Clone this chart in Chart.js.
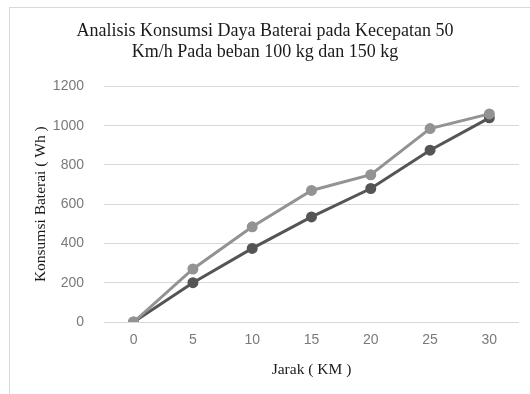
<!DOCTYPE html>
<html>
<head>
<meta charset="utf-8">
<script src="https://cdn.jsdelivr.net/npm/chart.js@4/dist/chart.umd.min.js"></script>
<style>
  html, body { margin: 0; padding: 0; background: #fff; }
  #wrap { position: relative; width: 530px; height: 394px; overflow: hidden; }
  #frame { position: absolute; left: 9px; top: 7px; right: -2px; bottom: -2px;
           border-left: 1px solid #d9d9d9; border-top: 1px solid #d9d9d9; }
  canvas { position: absolute; left: 0; top: 0; }
</style>
</head>
<body>
<div id="wrap">
  <div id="frame"></div>
  <canvas id="c" width="530" height="394"></canvas>
</div>
<script>
// Distance travelled (km)
const jarak = ['0', '5', '10', '15', '20', '25', '30'];
// Battery consumption (Wh) for each load
const beban150 = [0, 270, 485, 670, 750, 985, 1060];
const beban100 = [0, 200, 375, 535, 680, 875, 1040];
const titleLines = ['Analisis Konsumsi Daya Baterai pada Kecepatan 50', 'Km/h Pada beban 100 kg dan 150 kg'];
const yTitle = 'Konsumsi Baterai ( Wh )';
const xTitle = 'Jarak ( KM )';

const serif = "'Liberation Serif', 'Times New Roman', serif";
const sans = "'Liberation Sans', Arial, sans-serif";

new Chart(document.getElementById('c'), {
  type: 'line',
  data: {
    labels: jarak,
    datasets: [
      {
        label: '150 kg',
        data: beban150,
        borderColor: '#939393',
        backgroundColor: '#939393',
        borderWidth: 3,
        pointRadius: 4,
        pointHoverRadius: 4,
        tension: 0
      },
      {
        label: '100 kg',
        data: beban100,
        borderColor: '#555555',
        backgroundColor: '#555555',
        borderWidth: 3,
        pointRadius: 4,
        pointHoverRadius: 4,
        tension: 0
      }
    ]
  },
  options: {
    responsive: false,
    animation: false,
    devicePixelRatio: 1,
    layout: { padding: { left: 11, right: 11, top: 10, bottom: 10 } },
    plugins: {
      legend: { display: false },
      tooltip: { enabled: false },
      title: {
        display: true,
        text: titleLines,
        color: '#1a1a1a',
        font: { family: serif, size: 18, weight: 'normal', lineHeight: 1.15 },
        padding: { top: 11, bottom: 24 }
      }
    },
    scales: {
      x: {
        offset: true,
        grid: { display: false, drawTicks: false },
        border: { display: false },
        ticks: {
          color: '#7a7a7a',
          padding: 10,
          font: { family: sans, size: 14 }
        },
        title: {
          display: true,
          text: xTitle,
          color: '#1a1a1a',
          font: { family: serif, size: 15.5, lineHeight: 1.2 },
          padding: { top: 6, bottom: 5 }
        },
        afterFit(scale) { scale.height = 62; }
      },
      y: {
        min: 0,
        max: 1200,
        grid: { color: '#d9d9d9', lineWidth: 1, drawTicks: false },
        border: { display: false },
        ticks: {
          stepSize: 200,
          color: '#7a7a7a',
          padding: 20,
          font: { family: sans, size: 14 },
          callback: (v) => String(v)
        },
        title: {
          display: true,
          text: yTitle,
          color: '#1a1a1a',
          font: { family: serif, size: 15.5, lineHeight: 1.2 },
          padding: { top: 21, bottom: 0 }
        },
        afterFit(scale) { scale.width = 93; }
      }
    }
  }
});
</script>
</body>
</html>
